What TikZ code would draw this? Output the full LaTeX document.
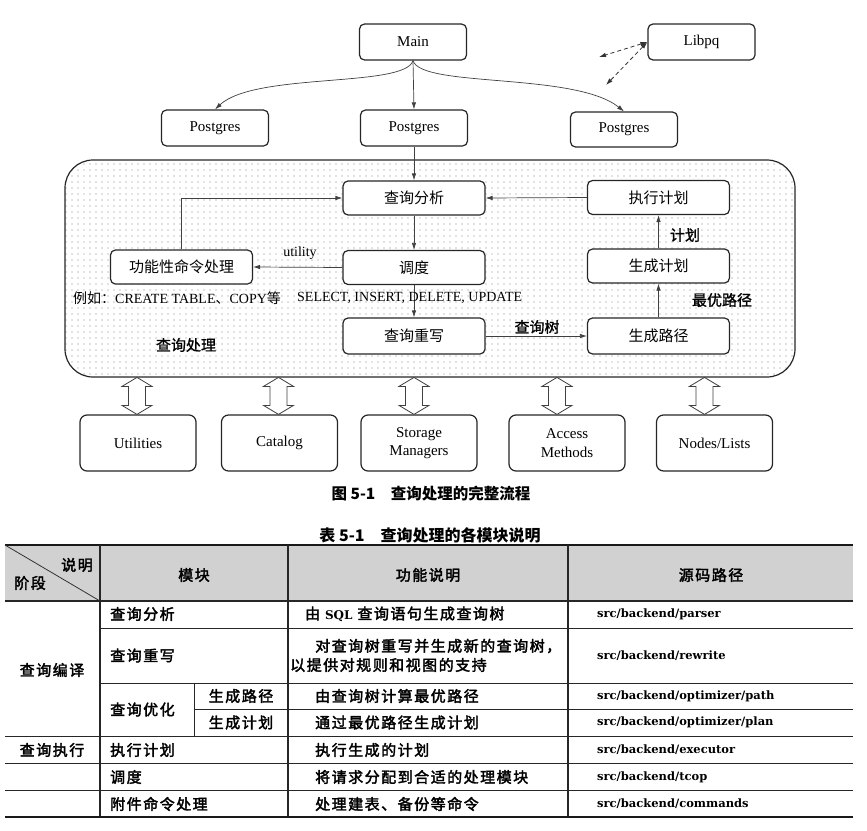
\documentclass[tikz,border=0pt]{standalone}
\usepackage{fontspec}
\usetikzlibrary{arrows.meta,patterns.meta,calc}
\newfontfamily\cjk{Noto Sans CJK SC}
\newfontfamily\cjkm[FakeBold=1.2]{Noto Sans CJK SC}
\newfontfamily\cjkt[LetterSpace=10,FakeBold=2.4]{Noto Sans CJK SC}
\newfontfamily\tnr{Liberation Serif}
\newfontfamily\dvs{DejaVu Serif}
\begin{document}
\begin{tikzpicture}[x=1pt,y=-1pt,
  font=\tnr\fontsize{15}{18.5}\selectfont,
  box/.style={draw=black!85, line width=1.2pt, rounded corners=5pt, fill=white,
     minimum width=107pt, minimum height=36pt, inner sep=0pt, align=center},
  ibox/.style={box, minimum width=142pt, minimum height=34pt, font=\cjk\fontsize{15}{17}\selectfont},
  bbox/.style={box, minimum width=116pt, minimum height=56pt, rounded corners=7pt},
  region/.style={draw=black!85, line width=1.2pt, rounded corners=28pt,
     pattern={Dots[distance=6pt, radius=0.6pt]}, pattern color=black!50,
     minimum width=730pt, minimum height=217pt, inner sep=0pt},
  arr/.style={draw=black!75, line width=0.7pt, -{Latex[length=7pt,width=4.5pt]}},
  darr/.style={draw=black!80, line width=0.8pt, dash pattern=on 4pt off 3pt,
     {Latex[length=7pt,width=4.5pt]}-{Latex[length=7pt,width=4.5pt]}},
  harr/.style={draw=black!75, line width=0.8pt, fill=white, line join=miter},
  lbl/.style={inner sep=0pt},
  clbl/.style={inner sep=0pt, font=\cjkm\fontsize{15}{17}\selectfont},
  tcj/.style={inner sep=0pt, font=\cjkt\fontsize{15}{18}\selectfont},
  ten/.style={inner sep=0pt, font=\dvs\bfseries\fontsize{11.5}{14}\selectfont},
  tline/.style={line width=0.9pt, draw=black!85},
  tthick/.style={line width=1.8pt, draw=black!90}
]
\useasboundingbox (0,0) rectangle (867,830);

% ---------- top part ----------
\node[box] (main) at (413,42) {Main};
\node[box] (libpq) at (701.5,42) {Libpq};
\node[box] (pg1) at (215,128) {Postgres};
\node[box] (pg2) at (414,128) {Postgres};
\node[box, minimum height=35pt] (pg3) at (624,129.5) {Postgres};

\draw[arr] (main.south) -- (pg2.north);
\draw[arr] (main.south) .. controls (405,88) and (255,72) .. (pg1.north);
\draw[arr] (main.south) .. controls (421,88) and (575,72) .. (pg3.north);
\coordinate (d1) at (599,57);
\coordinate (d2) at (606,85);
\draw[darr] (libpq.west) -- (d1);
\draw[darr] (libpq.west) -- (d2);

% ---------- query processing region ----------
\node[region] (reg) at (430,268.5) {};

\node[ibox] (qa) at (414,198) {查询分析};
\node[ibox] (exec) at (658.5,197.5) {执行计划};
\node[ibox] (disp) at (414,267.5) {调度};
\node[ibox] (gplan) at (658.5,266) {生成计划};
\node[ibox] (func) at (181.5,267) {功能性命令处理};
\node[ibox, minimum height=36pt] (rew) at (414,336) {查询重写};
\node[ibox, minimum height=36pt] (gpath) at (658.5,336) {生成路径};

\draw[arr] (pg2.south) -- (qa.north);
\draw[arr] (qa.south) -- (disp.north);
\draw[arr] (disp.south) -- (rew.north);
\draw[arr] (disp.west) -- (func.east);
\draw[arr] (func.north) |- (qa.west);
\draw[arr] (exec.west) -- (qa.east);
\draw[arr] (gplan.north) -- (exec.south);
\draw[arr] (gpath.north) -- (gplan.south);
\draw[arr] (rew.east) -- (gpath.west);

\node[lbl, font=\tnr\fontsize{14}{16}\selectfont] (utl) at (300,253) {utility};
\node[clbl] (lplan) at (685,235) {计划};
\node[clbl] (lbest) at (722,300) {最优路径};
\node[clbl] (ltree) at (537,327) {查询树};
\node[clbl] (lqp) at (186,345) {查询处理};
\node[lbl, anchor=west, font=\tnr\fontsize{14}{16}\selectfont] (eg1) at (73,298)
  {{\cjk 例如：}CREATE TABLE{\cjk 、}COPY{\cjk 等}};
\node[lbl, anchor=west, font=\tnr\fontsize{14}{16}\selectfont] (eg2) at (297,298)
  {SELECT, INSERT, DELETE, UPDATE};

% ---------- bottom modules ----------
\node[bbox] (util) at (138,443) {Utilities};
\node[bbox] (cat) at (279.5,443) {Catalog};
\node[bbox] (stor) at (419,443) {Storage\\Managers};
\node[bbox] (acc) at (567,443) {Access\\Methods};
\node[bbox] (nod) at (714.5,443) {Nodes/Lists};

\foreach \n/\dx in {util/-1, cat/-1, stor/-5, acc/-10, nod/-10}{
  \draw[harr] ($(\n.north)+(\dx,0)$) -- ++(15,-9) -- ++(-6.5,0) -- ++(0,-19)
     -- ++(6.5,0) -- ++(-15,-9) -- ++(-15,9) -- ++(6.5,0) -- ++(0,19)
     -- ++(-6.5,0) -- cycle;
}

% ---------- captions ----------
\node[lbl, font=\cjk\bfseries\fontsize{15.5}{18}\selectfont] (figcap) at (431,494)
  {图 5-1\hspace{1em}查询处理的完整流程};
\node[lbl, font=\cjk\bfseries\fontsize{16}{18}\selectfont] (tabcap) at (430,535)
  {表 5-1\hspace{1em}查询处理的各模块说明};

% ---------- table ----------
\fill[black!18] (5,545) rectangle (853,601);
\draw[tthick] (5,545) -- (853,545);
\draw[line width=1.3pt, draw=black!85] (5,601) -- (853,601);
\draw[line width=0.8pt, draw=black!80] (5,545) -- (100,601);
\foreach \xx in {100,288,568}{
  \draw[line width=1.2pt, draw=black!85] (\xx,545) -- (\xx,817);
}
\draw[tline] (194,683) -- (194,736);
\draw[tline] (100,628) -- (853,628);
\draw[tline] (100,683) -- (853,683);
\draw[tline] (194,709) -- (853,709);
\draw[tline] (5,736) -- (853,736);
\draw[tline] (5,763) -- (853,763);
\draw[tline] (5,790) -- (853,790);
\draw[tthick] (5,817) -- (853,817);

\node[tcj] (hsm) at (77,565) {说明};
\node[tcj] (hjd) at (30,583) {阶段};
\node[tcj] (hmk) at (194,575) {模块};
\node[tcj] (hgn) at (428,575) {功能说明};
\node[tcj] (hym) at (711,575) {源码路径};

\node[tcj] (c1a) at (52,670) {查询编译};
\node[tcj] (c1b) at (52,750) {查询执行};

\node[tcj, anchor=west] (r1a) at (110,614) {查询分析};
\node[tcj, anchor=west] (r1b) at (305,614) {由 {\dvs\bfseries\fontsize{12}{14}\selectfont SQL} 查询语句生成查询树};
\node[ten, anchor=west] (r1c) at (597,614) {src/backend/parser};

\node[tcj, anchor=west] (r2a) at (110,655.5) {查询重写};
\node[tcj, anchor=west] (r2b) at (315,646) {对查询树重写并生成新的查询树，};
\node[tcj, anchor=west] (r2b2) at (290,665) {以提供对规则和视图的支持};
\node[ten, anchor=west] (r2c) at (597,656) {src/backend/rewrite};

\node[tcj, anchor=west] (r3a) at (110,709.5) {查询优化};
\node[tcj] (r3s) at (241,696) {生成路径};
\node[tcj, anchor=west] (r3b) at (315,696) {由查询树计算最优路径};
\node[ten, anchor=west] (r3c) at (597,696) {src/backend/optimizer/path};

\node[tcj] (r4s) at (241,722.5) {生成计划};
\node[tcj, anchor=west] (r4b) at (315,722.5) {通过最优路径生成计划};
\node[ten, anchor=west] (r4c) at (597,722.5) {src/backend/optimizer/plan};

\node[tcj, anchor=west] (r5a) at (110,750) {执行计划};
\node[tcj, anchor=west] (r5b) at (315,750) {执行生成的计划};
\node[ten, anchor=west] (r5c) at (597,750) {src/backend/executor};

\node[tcj, anchor=west] (r6a) at (110,777) {调度};
\node[tcj, anchor=west] (r6b) at (315,777) {将请求分配到合适的处理模块};
\node[ten, anchor=west] (r6c) at (597,777) {src/backend/tcop};

\node[tcj, anchor=west] (r7a) at (110,804) {附件命令处理};
\node[tcj, anchor=west] (r7b) at (315,804) {处理建表、备份等命令};
\node[ten, anchor=west] (r7c) at (597,804) {src/backend/commands};
\end{tikzpicture}
\end{document}
